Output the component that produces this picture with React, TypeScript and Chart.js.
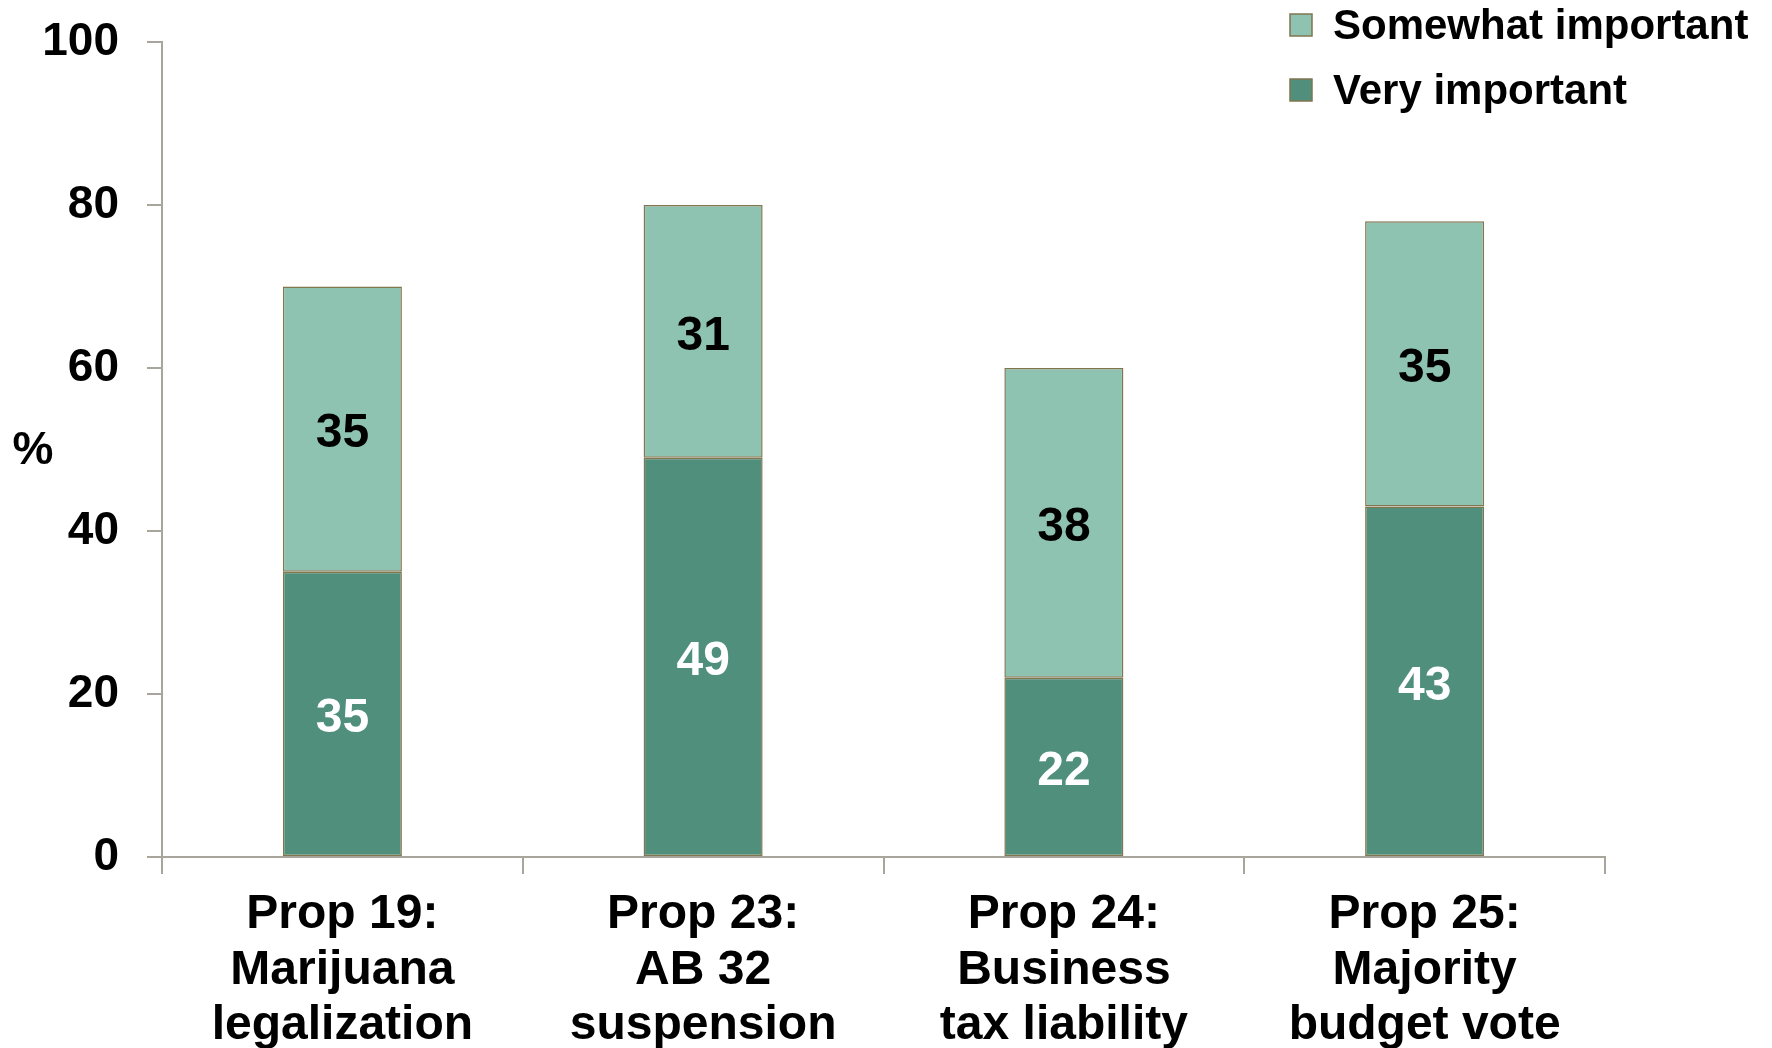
import React, { useEffect, useRef } from "react";
import { Chart, registerables } from "chart.js";

Chart.register(...registerables);

const categories: string[][] = [
  ["Prop 19:", "Marijuana", "legalization"],
  ["Prop 23:", "AB 32", "suspension"],
  ["Prop 24:", "Business", "tax liability"],
  ["Prop 25:", "Majority", "budget vote"],
];
const veryImportant = [35, 49, 22, 43];
const somewhatImportant = [35, 31, 38, 35];
const yTicks = [0, 20, 40, 60, 80, 100];
const seriesNames = ["Very important", "Somewhat important"];
const legendOrder = [1, 0];

const FONT = "'Liberation Sans', Arial, sans-serif";
const DARK = "#4F8F7B";
const LIGHT = "#8FC3B1";
const EDGE = "#807650";
const AXIS = "#A8A59D";

const labelsPlugin = {
  id: "segLabels",
  afterDatasetsDraw(chart: any) {
    const ctx = chart.ctx;
    ctx.save();
    ctx.font = `bold 48px ${FONT}`;
    ctx.textAlign = "center";
    ctx.textBaseline = "middle";
    chart.data.datasets.forEach((ds: any, di: number) => {
      const meta = chart.getDatasetMeta(di);
      meta.data.forEach((bar: any, i: number) => {
        const v = ds.data[i];
        ctx.fillStyle = di === 0 ? "#ffffff" : "#000000";
        ctx.fillText(String(v), bar.x, (bar.y + bar.base) / 2 + 5);
      });
    });
    ctx.restore();
  },
};

const extrasPlugin = {
  id: "extras",
  afterDraw(chart: any) {
    const ctx = chart.ctx;
    const area = chart.chartArea;
    ctx.save();
    // y axis title "%"
    ctx.font = `bold 46px ${FONT}`;
    ctx.fillStyle = "#000";
    ctx.textAlign = "center";
    ctx.textBaseline = "middle";
    ctx.fillText("%", 33, (area.top + area.bottom) / 2 + 2);
    // legend
    ctx.font = `bold 42px ${FONT}`;
    ctx.textAlign = "left";
    const rowsY = [25, 90];
    legendOrder.forEach((di, r) => {
      const ds = chart.data.datasets[di];
      const y = rowsY[r];
      ctx.fillStyle = ds.backgroundColor;
      ctx.fillRect(1290, y - 11, 22, 22);
      ctx.strokeStyle = EDGE;
      ctx.lineWidth = 1.5;
      ctx.strokeRect(1290, y - 11, 22, 22);
      ctx.fillStyle = "#000";
      ctx.fillText(ds.label, 1333, y + 2);
    });
    ctx.restore();
  },
};

export default function App() {
  const ref = useRef<HTMLCanvasElement | null>(null);
  useEffect(() => {
    if (!ref.current) return;
    const chart = new Chart(ref.current, {
      type: "bar",
      data: {
        labels: categories,
        datasets: [
          {
            label: seriesNames[0],
            data: veryImportant,
            backgroundColor: DARK,
            borderColor: EDGE,
            borderWidth: 1.5,
            borderSkipped: false,
            categoryPercentage: 1,
            barPercentage: 0.33,
          },
          {
            label: seriesNames[1],
            data: somewhatImportant,
            backgroundColor: LIGHT,
            borderColor: EDGE,
            borderWidth: 1.5,
            borderSkipped: false,
            categoryPercentage: 1,
            barPercentage: 0.33,
          },
        ],
      },
      options: {
        responsive: false,
        animation: false,
        layout: { padding: { top: 42, right: 167, left: 0, bottom: 0 } },
        plugins: {
          legend: { display: false },
          tooltip: { enabled: false },
        },
        scales: {
          x: {
            stacked: true,
            afterFit: (s: any) => {
              s.height = 191;
            },
            grid: {
              display: true,
              drawOnChartArea: false,
              drawTicks: true,
              tickLength: 17,
              color: AXIS,
              lineWidth: 2,
              offset: true,
            },
            border: { display: true, color: AXIS, width: 2 },
            ticks: {
              color: "#000",
              padding: 13,
              font: { family: FONT, size: 48, weight: "bold", lineHeight: 1.16 },
              maxRotation: 0,
              autoSkip: false,
            },
          },
          y: {
            stacked: true,
            min: 0,
            max: 100,
            afterFit: (s: any) => {
              s.width = 162;
              s.paddingTop = 0;
              s.paddingBottom = 0;
            },
            afterBuildTicks: (s: any) => {
              s.ticks = yTicks.map((v) => ({ value: v }));
            },
            grid: {
              display: true,
              drawOnChartArea: false,
              drawTicks: true,
              tickLength: 15,
              color: AXIS,
              lineWidth: 2,
            },
            border: { display: true, color: AXIS, width: 2 },
            ticks: {
              color: "#000",
              padding: 28,
              font: { family: FONT, size: 46, weight: "bold" },
            },
          },
        },
      },
      plugins: [labelsPlugin, extrasPlugin],
    });
    return () => chart.destroy();
  }, []);
  return (
    <div style={{ position: "absolute", left: 0, top: 0, width: 1772, height: 1048, background: "#fff" }}>
      <canvas ref={ref} width={1772} height={1048} />
    </div>
  );
}
